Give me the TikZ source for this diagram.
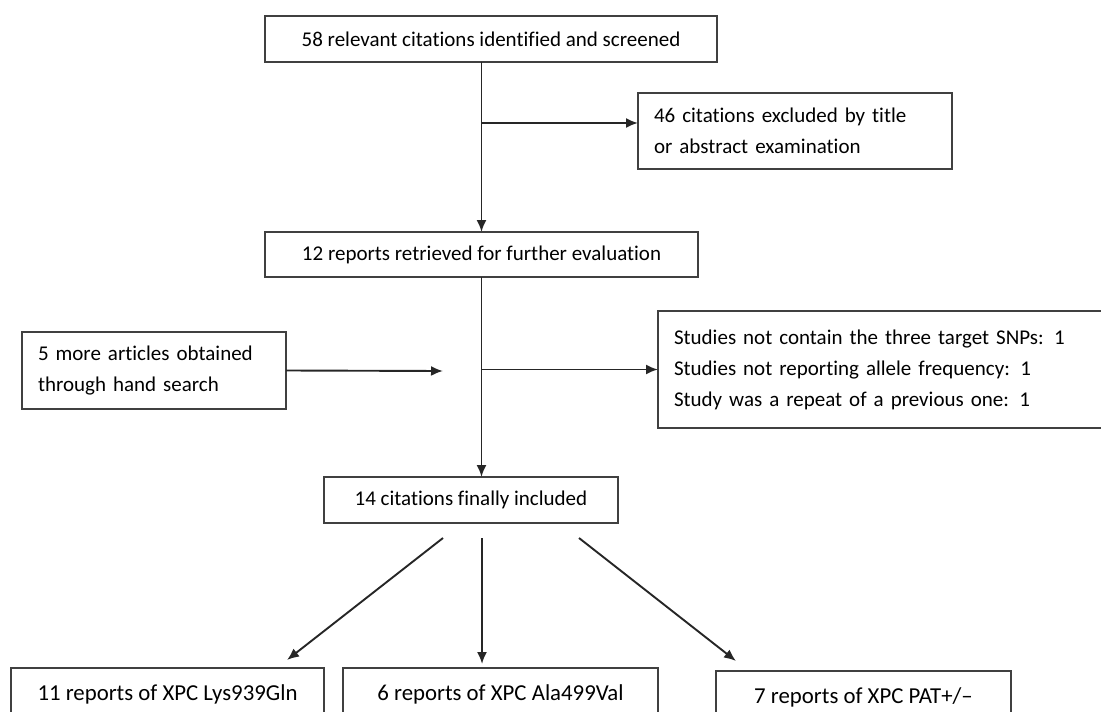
\documentclass[tikz,border=0pt]{standalone}
\usepackage{fontspec}
\setmainfont{Carlito}[Ligatures=NoCommon]
\usetikzlibrary{arrows.meta}

\begin{document}
\begin{tikzpicture}[
  x=0.5pt, y=-0.5pt,
  box/.style={rectangle, draw=black!75, line width=0.9pt, inner sep=0pt, outer sep=0pt, align=center, text=black, font=\fontsize{10.5}{15.5}\selectfont},
  bigbox/.style={box, minimum height=26pt, font=\fontsize{11.4}{15}\selectfont},
  arr/.style={-{Latex[length=6pt,width=5pt]}, line width=0.95pt, draw=black!85}
]
\useasboundingbox (0,0) rectangle (1101,711);
\node[box, minimum width=226pt, minimum height=23pt] (ident) at (491,39) {58 relevant citations identified and screened};
\node[box, minimum width=157pt, minimum height=38pt, text width=141pt, align=left] (title) at (795,131) {\makebox[139.5pt][s]{46 citations excluded by title}\\or abstract examination};
\node[box, minimum width=216.5pt, minimum height=22.5pt] (retr) at (481.5,254.5) {12 reports retrieved for further evaluation};
\node[box, minimum width=132pt, minimum height=38.5pt, text width=116pt, align=left] (hand) at (154,370.5) {5 more articles obtained\\through hand search};
\node[box, minimum width=236pt, minimum height=58.5pt, text width=220pt, align=left] (excl) at (894,369.5) {Studies not contain the three target SNPs: 1\\Studies not reporting allele frequency: 1\\Study was a repeat of a previous one: 1};
\node[box, minimum width=147pt, minimum height=23pt] (incl) at (471,500) {14 citations finally included};
\node[bigbox, minimum width=156.5pt] (lys) at (167.5,694) {11 reports of XPC Lys939Gln};
\node[bigbox, minimum width=157.5pt] (ala) at (500.5,694) {6 reports of XPC Ala499Val};
\node[bigbox, minimum width=147.5pt] (pat) at (863.5,697) {7 reports of XPC PAT+/--};

\coordinate (br) at (482,123);
\coordinate (hj) at (443,371);
\coordinate (s1) at (443,538);
\coordinate (s2) at (482,538);
\coordinate (s3) at (579,538);
\coordinate (t1) at (287,660);
\coordinate (t2) at (482,664);
\coordinate (t3) at (736,661);

\draw[arr] (retr.north |- ident.south) -- (retr.north);
\draw[arr] (br) -- (br -| title.west);
\draw[arr] (retr.south) -- (retr.south |- incl.north);
\draw[arr] (hand.east) -- (hj);
\draw[arr] (retr.south |- excl.west) -- (excl.west);
\draw[arr] (s1) -- (t1);
\draw[arr] (s2) -- (t2);
\draw[arr] (s3) -- (t3);
\end{tikzpicture}
\end{document}
